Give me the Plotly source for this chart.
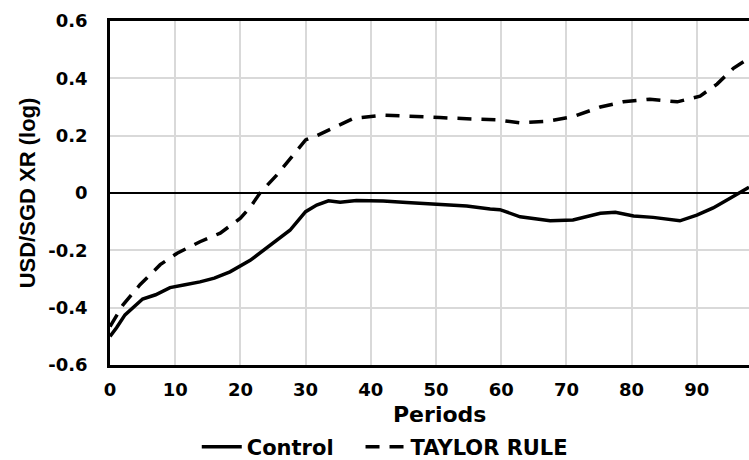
import plotly.graph_objects as go

# Control scenario: USD/SGD exchange rate (log deviation) by period
control_periods = [0, 1, 2.3, 3.5, 5, 7, 9.2, 11.5, 13.8, 16, 18.4, 21.5, 24.5, 27.6, 30,
                   31.7, 33.5, 35.3, 37.8, 41.9, 45.5, 49.6, 54.7, 58.3, 59.8, 62.9, 67.5,
                   71, 75.2, 77.5, 80.3, 83.3, 87.4, 90, 92.5, 95.1, 98]
control_values = [-0.50, -0.47, -0.425, -0.40, -0.37, -0.355, -0.33, -0.32, -0.31, -0.297,
                  -0.275, -0.235, -0.185, -0.13, -0.065, -0.042, -0.027, -0.032, -0.026,
                  -0.028, -0.033, -0.038, -0.045, -0.056, -0.058, -0.083, -0.097, -0.094,
                  -0.071, -0.067, -0.08, -0.085, -0.097, -0.077, -0.052, -0.018, 0.02]

# Taylor-rule scenario
taylor_periods = [0, 2, 4.6, 7.7, 10.3, 13.8, 16.9, 20, 21.5, 23, 25.6, 27.9, 30, 31.7,
                  34.2, 37.3, 41.9, 46.5, 50.6, 54.7, 59.4, 62.9, 67, 71, 75.2, 78.7,
                  82.8, 87, 90.5, 93.1, 95.6, 98]
taylor_values = [-0.466, -0.39, -0.32, -0.25, -0.21, -0.17, -0.14, -0.088, -0.05, 0.0,
                 0.063, 0.127, 0.185, 0.2, 0.226, 0.26, 0.272, 0.266, 0.263, 0.259, 0.255,
                 0.245, 0.25, 0.266, 0.3, 0.318, 0.327, 0.318, 0.338, 0.38, 0.435, 0.47]

x_ticks = [0, 10, 20, 30, 40, 50, 60, 70, 80, 90]
y_ticks = [-0.6, -0.4, -0.2, 0, 0.2, 0.4, 0.6]
y_tick_labels = ["-0.6", "-0.4", "-0.2", "0", "0.2", "0.4", "0.6"]

WIDE = "DejaVu Sans, Verdana, sans-serif"
NARROW = "Liberation Sans, Arial, sans-serif"
NBSP = "\u00a0"

fig = go.Figure()
fig.add_trace(go.Scatter(
    x=control_periods, y=control_values, mode="lines", name="Control" + NBSP * 3,
    line=dict(color="black", width=3.5),
))
fig.add_trace(go.Scatter(
    x=taylor_periods, y=taylor_values, mode="lines", name="TAYLOR RULE",
    line=dict(color="black", width=3.5, dash="14px,10px"),
))

fig.update_layout(
    width=749, height=460,
    margin=dict(l=110, r=0, t=21, b=95, autoexpand=False),
    paper_bgcolor="white", plot_bgcolor="white",
    font=dict(family=WIDE, color="black", size=18, weight="bold"),
    showlegend=True,
    legend=dict(
        orientation="h", x=0.43, xanchor="center", xref="paper",
        y=13 / 460, yanchor="middle", yref="container",
        font=dict(family=WIDE, size=21, weight="bold", color="black"),
        itemwidth=40, tracegroupgap=0,
    ),
    annotations=[dict(
        text="Periods", xref="paper", yref="paper", x=0.516, y=-0.143,
        xanchor="center", yanchor="middle", showarrow=False,
        font=dict(family=WIDE, size=22, weight="bold", color="black"),
    )],
)
fig.update_xaxes(
    range=[0, 98], tickvals=x_ticks,
    showgrid=True, gridcolor="#d9d9d9", gridwidth=1.5,
    showline=True, linecolor="black", linewidth=2.5, mirror=True,
    zeroline=False, ticks="", ticklabelstandoff=7,
    tickfont=dict(family=WIDE, size=18, weight="bold"),
)
fig.update_yaxes(
    range=[-0.6, 0.6], tickvals=y_ticks, ticktext=y_tick_labels,
    showgrid=True, gridcolor="#d9d9d9", gridwidth=1.5,
    showline=True, linecolor="black", linewidth=2.5,
    zeroline=True, zerolinecolor="black", zerolinewidth=1.5,
    ticks="", ticklabelstandoff=16,
    tickfont=dict(family=WIDE, size=18, weight="bold"),
    title=dict(text="USD/SGD XR (log)", font=dict(family=NARROW, size=22, weight="bold"), standoff=7),
)

fig.write_html("out.html")
